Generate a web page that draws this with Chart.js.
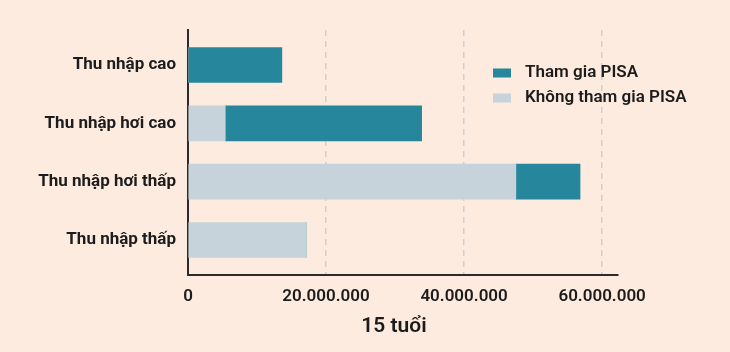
<!DOCTYPE html>
<html>
<head>
<meta charset="utf-8">
<script src="https://cdn.jsdelivr.net/npm/chart.js@4"></script>
<style>
  html, body { margin: 0; padding: 0; background: #FDEBE0; }
  #wrap { width: 730px; height: 352px; position: relative; }
</style>
</head>
<body>
<div id="wrap"><canvas id="c" width="730" height="352"></canvas></div>
<script>
const categories = ["Thu nhập cao", "Thu nhập hơi cao", "Thu nhập hơi thấp", "Thu nhập thấp"];
const seriesNames = ["Không tham gia PISA", "Tham gia PISA"];
const khongThamGia = [0, 5400000, 47500000, 17100000];
const thamGia = [13600000, 28450000, 9300000, 0];
const xTicks = [0, 20000000, 40000000, 60000000];
const xTitle = "15 tuổi";

const colTeal = "#25869C";
const colLight = "#C6D3DB";
const bg = "#FDEBE0";
const ink = "#1c1c1c";

function fmt(v) {
  return String(Math.round(v)).replace(/\B(?=(\d{3})+(?!\d))/g, ".");
}

const legendPlugin = {
  id: "customLegend",
  afterDraw(chart) {
    const ctx = chart.ctx;
    ctx.save();
    const items = chart.data.datasets.slice().reverse();
    ctx.font = "600 17px Roboto";
    ctx.textBaseline = "middle";
    ctx.textAlign = "left";
    items.forEach((ds, i) => {
      const y = 73 + i * 25;
      ctx.fillStyle = ds.backgroundColor;
      ctx.fillRect(493, y - 4.5, 18, 9);
      ctx.fillStyle = ink;
      ctx.fillText(ds.label, 525, y);
    });
    // x-axis title
    ctx.font = "600 21px Roboto";
    ctx.textAlign = "center";
    ctx.fillText(xTitle, 394, 327);
    ctx.restore();
  }
};

const bgPlugin = {
  id: "bg",
  beforeDraw(chart) {
    const ctx = chart.ctx;
    ctx.save();
    ctx.fillStyle = bg;
    ctx.fillRect(0, 0, chart.width, chart.height);
    ctx.restore();
  }
};

new Chart(document.getElementById("c"), {
  type: "bar",
  data: {
    datasets: [
      {
        label: seriesNames[0],
        data: khongThamGia.map((v, i) => ({ x: v, y: i })),
        backgroundColor: colLight,
        borderWidth: 0,
        barThickness: 35
      },
      {
        label: seriesNames[1],
        data: thamGia.map((v, i) => ({ x: v, y: i })),
        backgroundColor: colTeal,
        borderWidth: 0,
        barThickness: 35
      }
    ]
  },
  options: {
    indexAxis: "y",
    responsive: false,
    animation: false,
    layout: { padding: { top: 30, right: 112, left: 0, bottom: 0 } },
    plugins: { legend: { display: false }, tooltip: { enabled: false } },
    scales: {
      x: {
        type: "linear",
        stacked: true,
        min: 0,
        max: 62300000,
        afterBuildTicks(scale) { scale.ticks = xTicks.map(v => ({ value: v })); },
        afterFit(scale) { scale.height = 77; },
        ticks: {
          callback: v => fmt(v),
          color: ink,
          font: { family: "Roboto", size: 17, weight: "600" },
          padding: 12,
          maxRotation: 0
        },
        grid: {
          drawTicks: false,
          color: ctx => (ctx.tick && ctx.tick.value === 0) ? "rgba(0,0,0,0)" : "#cfcfcf",
          lineWidth: 1.5
        },
        border: { display: true, color: "#2b2b2b", width: 2, dash: [6, 5] }
      },
      y: {
        type: "linear",
        stacked: true,
        reverse: true,
        offset: false,
        min: -0.6,
        max: 3.6,
        afterBuildTicks(scale) { scale.ticks = categories.map((c, i) => ({ value: i })); },
        afterFit(scale) { scale.width = 188; },
        ticks: {
          callback: v => categories[v] !== undefined ? categories[v] : "",
          color: ink,
          font: { family: "Roboto", size: 17, weight: "bold" },
          padding: 12
        },
        grid: { display: false, drawTicks: false, offset: false },
        border: { display: true, color: "#2b2b2b", width: 2 }
      }
    }
  },
  plugins: [bgPlugin, legendPlugin]
});
</script>
</body>
</html>
